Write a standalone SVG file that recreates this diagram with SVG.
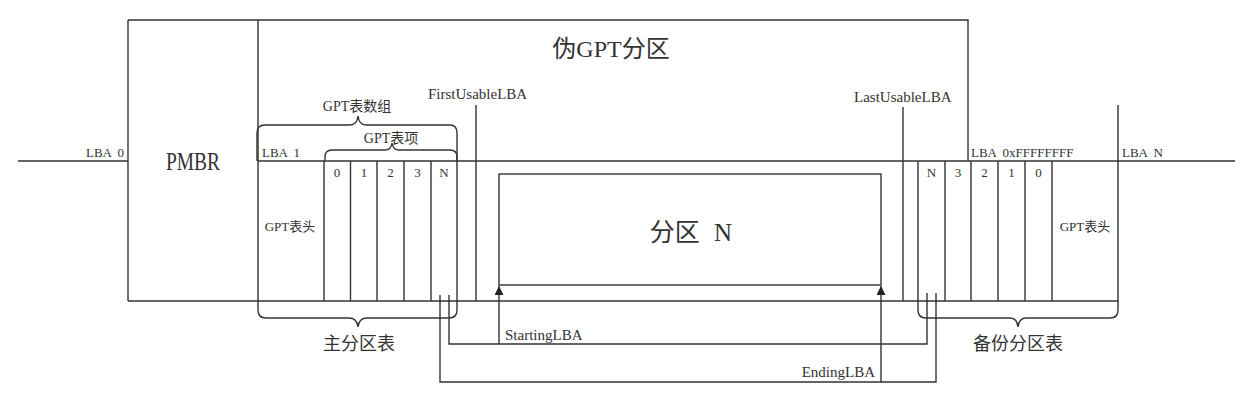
<svg xmlns="http://www.w3.org/2000/svg" width="1250" height="415" viewBox="0 0 1250 415">
<defs>
<style>
.ln{fill:none;stroke:#333;stroke-width:1.4}
.t{font-family:"Liberation Serif","Noto Sans CJK SC",serif;fill:#333}
.s{font-size:13px}
.m{font-size:15px}
.c{text-anchor:middle}
</style>
<marker id="ah" viewBox="0 0 10 10" refX="10" refY="5" markerWidth="9" markerHeight="9" markerUnits="userSpaceOnUse" orient="auto">
<path d="M0,0 L10,5 L0,10 Z" fill="#222"/>
</marker>
</defs>
<rect width="1250" height="415" fill="#fff"/>

<g id="disk-line">
<path class="ln" d="M18,161 H128 M258,161 H1235"/>
<path class="ln" d="M128,301 H1118"/>
</g>

<g id="pmbr">
<path class="ln" d="M128,20 V301 M128,20 H258 M258,20 V301"/>
<text class="t c" x="193" y="170" font-size="25" textLength="54" lengthAdjust="spacingAndGlyphs">PMBR</text>
<text class="t s" x="86" y="157" word-spacing="3">LBA 0</text>
</g>

<g id="pseudo-gpt">
<path class="ln" d="M258,20 H968 V161"/>
<text class="t c" x="611" y="57" font-size="24">伪GPT分区</text>
</g>

<g id="primary-gpt">
<text class="t s" x="262" y="157" word-spacing="3">LBA 1</text>
<path class="ln" d="M324,161 V301 M350.5,161 V301 M377,161 V301 M404,161 V301 M431,161 V301 M457,161 V301"/>
<text class="t s c" x="290" y="231">GPT表头</text>
<text class="t s c" x="337" y="177">0</text>
<text class="t s c" x="364" y="177">1</text>
<text class="t s c" x="390.5" y="177">2</text>
<text class="t s c" x="417.5" y="177">3</text>
<text class="t s c" x="444" y="177">N</text>
</g>

<g id="brace-array">
<path class="ln" d="M257,161 V133 Q257,125 265,125 H350 Q357,125 358,116 Q359,125 366,125 H450 Q457,125 457,133 V161"/>
<text class="t c" x="357" y="111" font-size="14">GPT表数组</text>
</g>

<g id="brace-entry">
<path class="ln" d="M325,161 V157 Q325,150 332,150 H385 Q391,150 392,143 Q393,150 399,150 H450 Q457,150 457,157 V161"/>
<text class="t c" x="391" y="143" font-size="14">GPT表项</text>
</g>

<g id="brace-primary">
<path class="ln" d="M258,301 V310 Q258,318 266,318 H349 Q357,318 358,327 Q359,318 367,318 H449 Q457,318 457,310 V301"/>
<text class="t c" x="359" y="350" font-size="18">主分区表</text>
</g>

<g id="first-usable">
<path class="ln" d="M476,105 V301"/>
<text class="t m" x="428" y="99">FirstUsableLBA</text>
</g>

<g id="partition-n">
<rect class="ln" x="499" y="174" width="382" height="111"/>
<text class="t c" x="691" y="241" font-size="25" word-spacing="8">分区 N</text>
</g>

<g id="last-usable">
<path class="ln" d="M903,107 V301"/>
<text class="t m" x="854" y="102">LastUsableLBA</text>
</g>

<g id="backup-gpt">
<path class="ln" d="M918,161 V301 M945,161 V301 M971,161 V301 M998,161 V301 M1025,161 V301 M1052,161 V301 M1118,105 V301"/>
<text class="t s" x="971" y="157" word-spacing="3">LBA 0xFFFFFFFF</text>
<text class="t s" x="1122" y="157" word-spacing="3">LBA N</text>
<text class="t s c" x="931.5" y="177">N</text>
<text class="t s c" x="958" y="177">3</text>
<text class="t s c" x="984.5" y="177">2</text>
<text class="t s c" x="1011.5" y="177">1</text>
<text class="t s c" x="1038.5" y="177">0</text>
<text class="t s c" x="1085" y="231">GPT表头</text>
</g>

<g id="brace-backup">
<path class="ln" d="M918,301 V310 Q918,318 926,318 H1010 Q1017,318 1018,327 Q1019,318 1026,318 H1110 Q1118,318 1118,310 V301"/>
<text class="t c" x="1018" y="350" font-size="18">备份分区表</text>
</g>

<g id="connectors">
<path class="ln" d="M449,295 V344 H927 V293"/>
<path class="ln" d="M440,295 V382 H936 V293"/>
<path class="ln" d="M499,344 V286" marker-end="url(#ah)"/>
<path class="ln" d="M881,382 V286" marker-end="url(#ah)"/>
<text class="t m" x="505" y="340">StartingLBA</text>
<text class="t m" x="875" y="377" text-anchor="end">EndingLBA</text>
</g>
</svg>
